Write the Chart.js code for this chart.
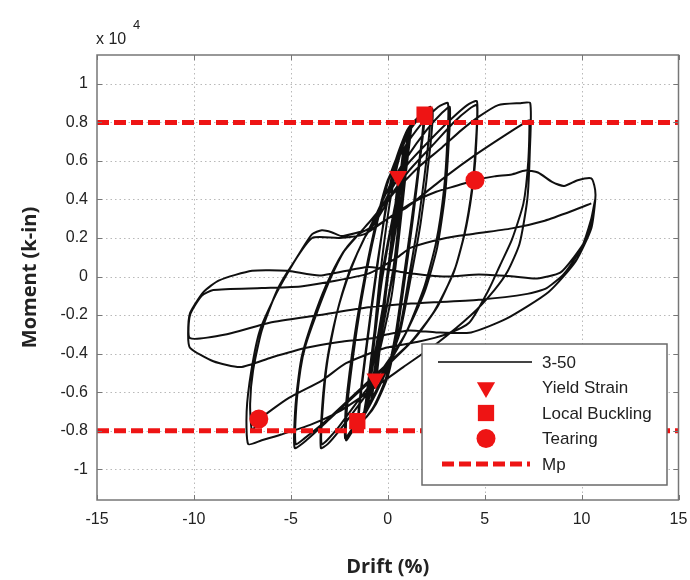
<!DOCTYPE html>
<html>
<head>
<meta charset="utf-8">
<script src="https://cdn.jsdelivr.net/npm/chart.js@4.4.1/dist/chart.umd.min.js"></script>
<style>
  html, body { margin: 0; padding: 0; background: #fff; }
</style>
</head>
<body>
<canvas id="chart-moment" width="690" height="580"></canvas>
<script>
// drift (%) , moment (x 10^4 k-in), cycle by cycle
const elasticCycles = [
  [0, 0], [0.25, 0.25], [0.12, 0.12], [-0.27, -0.26], [-0.14, -0.13], [0.26, 0.26], [0.12, 0.13], [-0.28, -0.27],
  [-0.15, -0.13], [0.38, 0.37], [0.25, 0.24], [-0.4, -0.38], [-0.27, -0.25], [0.4, 0.38], [0.27, 0.25], [-0.42, -0.39],
  [-0.28, -0.25], [0.52, 0.49], [0.35, 0.32], [-0.55, -0.5], [-0.38, -0.33], [0.53, 0.5], [0.36, 0.33], [-0.56, -0.51],
  [-0.38, -0.33], [0.78, 0.64], [0.55, 0.43], [-0.8, -0.62], [-0.57, -0.42], [0.8, 0.65], [0.56, 0.43], [-0.82, -0.63],
  [-0.58, -0.42], [0.82, 0.66], [0.58, 0.44], [-0.84, -0.63], [-0.6, -0.42],
  [1.05, 0.74], [0.8, 0.52], [0.3, 0.05], [-1.1, -0.7], [-0.85, -0.48], [-0.3, -0.02], [1.1, 0.75],
  [0.85, 0.52], [0.35, 0.06], [-1.15, -0.71], [-0.9, -0.49], [-0.35, -0.03], [1.15, 0.76], [0.88, 0.53], [-1.2, -0.72],
  [-0.95, -0.5], [-0.25, 0.04], [1.2, 0.77], [0.95, 0.55], [0.2, -0.1], [-1.25, -0.73]
];
const cycle15 = [
  [-0.9, -0.5], [-0.4, 0.0], [0.1, 0.38], [0.5, 0.58], [1.0, 0.74], [1.5, 0.81], [1.9, 0.84],
  [1.75, 0.68], [1.3, 0.3], [0.9, 0.0], [0.5, -0.28], [0, -0.52], [-0.6, -0.66], [-1.1, -0.73], [-1.5, -0.76],
  [-1.35, -0.58], [-0.9, -0.22], [-0.5, 0.08],
  [-0.1, 0.36], [0.4, 0.6], [1.0, 0.76], [1.6, 0.83], [1.85, 0.84],
  [1.7, 0.66], [1.2, 0.27], [0.8, -0.02], [0.4, -0.3], [-0.1, -0.53], [-0.7, -0.67], [-1.2, -0.74], [-1.55, -0.77],
  [-1.4, -0.6], [-0.95, -0.24], [-0.55, 0.06]
];
const cycle2 = [
  [0, 0.4], [0.6, 0.63], [1.3, 0.79], [1.9, 0.86], [2.2, 0.88],
  [2.1, 0.7], [1.6, 0.3], [1.1, 0.0], [0.6, -0.28], [-0.2, -0.52], [-1.1, -0.7], [-1.8, -0.8], [-2.15, -0.85],
  [-2.1, -0.68], [-1.6, -0.28], [-1.1, 0.02], [-0.5, 0.3],
  [0.2, 0.55], [1.0, 0.74], [1.7, 0.83], [2.3, 0.87],
  [2.2, 0.68], [1.7, 0.28], [1.2, 0.0], [0.6, -0.3], [-0.3, -0.53], [-1.2, -0.7], [-1.9, -0.8], [-2.2, -0.84],
  [-2.15, -0.66], [-1.7, -0.3], [-1.15, 0.02], [-0.6, 0.28]
];
const cycle3 = [
  [0, 0.5], [0.8, 0.66], [1.8, 0.8], [2.6, 0.88], [3.1, 0.9],
  [3.08, 0.72], [2.9, 0.45], [2.5, 0.18], [1.9, -0.05], [1.0, -0.28], [0, -0.46], [-1.3, -0.64], [-2.5, -0.8], [-3.1, -0.87], [-3.45, -0.89],
  [-3.4, -0.7], [-3.15, -0.45], [-2.65, -0.2], [-2.0, 0.02], [-1.3, 0.18], [-0.7, 0.3],
  [0.1, 0.47], [1.0, 0.62], [2.0, 0.76], [2.8, 0.85], [3.2, 0.88],
  [3.15, 0.7], [2.95, 0.42], [2.55, 0.15], [1.9, -0.08], [0.9, -0.3], [-0.2, -0.47], [-1.5, -0.64], [-2.6, -0.79], [-3.4, -0.87],
  [-3.35, -0.68], [-3.1, -0.43], [-2.6, -0.18], [-1.9, 0.04], [-1.2, 0.2], [-0.7, 0.28]
];
const cycle4 = [
  [0, 0.42], [1.0, 0.58], [2.2, 0.71], [3.3, 0.82], [4.1, 0.89], [4.6, 0.91],
  [4.58, 0.72], [4.42, 0.5], [4.05, 0.26], [3.5, 0.05], [2.6, -0.15], [1.4, -0.32], [0, -0.46], [-1.5, -0.6], [-3.0, -0.74], [-4.2, -0.85], [-4.8, -0.89],
  [-4.78, -0.7], [-4.6, -0.52], [-4.4, -0.4], [-3.88, -0.23], [-3.2, -0.05], [-2.34, 0.12], [-1.5, 0.22], [-0.8, 0.3],
  [0, 0.4], [1.1, 0.55], [2.3, 0.68], [3.4, 0.8], [4.2, 0.87], [4.6, 0.89],
  [4.55, 0.7], [4.35, 0.46], [3.95, 0.22], [3.4, 0.02], [2.4, -0.18], [1.2, -0.34], [-0.2, -0.47], [-1.7, -0.61], [-3.2, -0.75], [-4.3, -0.84], [-4.75, -0.87],
  [-4.72, -0.68], [-4.5, -0.48], [-4.25, -0.36], [-3.7, -0.2], [-3.0, -0.02], [-2.2, 0.14], [-1.5, 0.22], [-0.8, 0.26]
];
const cycle7 = [
  [0.2, 0.42], [1.5, 0.56], [2.8, 0.67], [3.8, 0.76], [4.7, 0.83], [5.7, 0.89], [6.8, 0.9], [7.35, 0.9],
  [7.33, 0.65], [7.2, 0.4], [6.8, 0.17], [6.2, 0.03], [5.5, -0.07], [4.3, -0.2], [2.5, -0.35], [0.8, -0.47], [-1, -0.6], [-2.5, -0.7], [-4.0, -0.77], [-5.5, -0.82], [-6.5, -0.85], [-7.2, -0.87],
  [-7.28, -0.7], [-7.04, -0.49], [-6.6, -0.28], [-5.76, -0.09], [-5.1, 0.03], [-4.5, 0.13], [-3.9, 0.22], [-3.4, 0.24], [-2.9, 0.23], [-2.4, 0.21], [-1.5, 0.23], [-0.8, 0.25],
  [0, 0.3], [1.0, 0.36], [1.75, 0.42], [3.0, 0.52], [4.5, 0.63], [6.0, 0.73], [7.1, 0.8], [7.3, 0.81],
  [7.25, 0.6], [7.0, 0.38], [6.4, 0.19], [5.8, 0.06], [5.2, -0.07], [4.2, -0.24], [3.0, -0.3], [1.5, -0.34], [-0.1, -0.37], [-2.15, -0.45], [-3.4, -0.54], [-5.1, -0.63], [-6.6, -0.74], [-7.0, -0.8],
  [-7.1, -0.66], [-6.95, -0.49], [-6.5, -0.28], [-5.7, -0.07], [-5.0, 0.05], [-3.9, 0.2], [-2.5, 0.2], [-1.2, 0.22]
];
const cycle10 = [
  [0, 0.3], [1.2, 0.38], [2.5, 0.44], [3.5, 0.47], [4.5, 0.5], [5.5, 0.52], [6.4, 0.53], [7.1, 0.55], [7.75, 0.54], [8.5, 0.49], [9.1, 0.47], [9.8, 0.5], [10.5, 0.51], [10.7, 0.45], [10.7, 0.39],
  [10.5, 0.25], [9.7, 0.08], [8.3, -0.08], [6.1, -0.22], [4.3, -0.29], [2.5, -0.29], [1.1, -0.28], [0, -0.3], [-0.8, -0.32], [-2.5, -0.34], [-4.2, -0.37], [-6, -0.42], [-7.6, -0.47], [-9.0, -0.44], [-10.2, -0.37],
  [-10.3, -0.3], [-10.2, -0.19], [-9.5, -0.08], [-8.7, -0.02], [-7.0, 0.03], [-5.2, 0.03], [-3.5, 0.005], [-1.0, 0.05], [0.9, 0.02], [3.0, 0.0], [4.7, 0.01], [6.5, 0.0], [7.7, -0.01], [8.9, 0.02], [9.6, 0.1], [10.2, 0.19], [10.6, 0.33], [10.7, 0.4],
  [10.5, 0.3], [10.0, 0.15], [9.1, 0.015], [8.2, -0.06], [7.2, -0.09], [4.7, -0.12], [1.2, -0.14], [-1.0, -0.16], [-3.5, -0.2], [-6.1, -0.24], [-8.3, -0.3], [-10.2, -0.32],
  [-10.2, -0.2], [-9.6, -0.1], [-9.0, -0.07], [-6.5, -0.06], [-4.4, -0.05], [-1.0, 0.015], [0.5, 0.1], [1.2, 0.15], [3.0, 0.2], [4.3, 0.22], [6.4, 0.25], [8.1, 0.29], [9.5, 0.34], [10.5, 0.38]
];

const yieldStrain = [[0.53, 0.52], [-0.63, -0.53]];
const localBuckling = [[1.9, 0.84], [-1.57, -0.75]];
const tearing = [[4.5, 0.5], [-6.65, -0.74]];
const mp = 0.8;

const xTicks = [-15, -10, -5, 0, 5, 10, 15];
const yTicks = [-1, -0.8, -0.6, -0.4, -0.2, 0, 0.2, 0.4, 0.6, 0.8, 1];
const legendLabels = ['3-50', 'Yield Strain', 'Local Buckling', 'Tearing', 'Mp'];

const RED = 'rgb(238, 20, 20)';
const FONT = '"Liberation Sans", Arial, sans-serif';
const toXY = arr => arr.map(([x, y]) => ({x, y}));

const hysteresis = toXY([].concat(elasticCycles, cycle15, cycle2, cycle3, cycle4, cycle7, cycle10));

const frame = {
  id: 'frame',
  beforeDatasetsDraw(chart) {
    const {ctx, chartArea: a, scales: {x, y}} = chart;
    ctx.save();
    ctx.strokeStyle = '#b9b9b9';
    ctx.lineWidth = 1;
    ctx.setLineDash([1.5, 3]);
    xTicks.slice(1, -1).forEach(v => {
      const px = Math.round(x.getPixelForValue(v)) + 0.5;
      ctx.beginPath(); ctx.moveTo(px, a.top); ctx.lineTo(px, a.bottom); ctx.stroke();
    });
    yTicks.forEach(v => {
      const py = Math.round(y.getPixelForValue(v)) + 0.5;
      ctx.beginPath(); ctx.moveTo(a.left, py); ctx.lineTo(a.right, py); ctx.stroke();
    });
    ctx.restore();
  },
  afterDatasetsDraw(chart) {
    const {ctx, chartArea: a, scales: {x, y}} = chart;
    ctx.save();
    // matlab style inner ticks + box
    ctx.strokeStyle = '#777';
    ctx.lineWidth = 1;
    xTicks.forEach(v => {
      const px = Math.round(x.getPixelForValue(v)) + 0.5;
      ctx.beginPath(); ctx.moveTo(px, a.bottom); ctx.lineTo(px, a.bottom - 5);
      ctx.moveTo(px, a.top); ctx.lineTo(px, a.top + 5); ctx.stroke();
    });
    yTicks.forEach(v => {
      const py = Math.round(y.getPixelForValue(v)) + 0.5;
      ctx.beginPath(); ctx.moveTo(a.left, py); ctx.lineTo(a.left + 5, py);
      ctx.moveTo(a.right, py); ctx.lineTo(a.right - 5, py); ctx.stroke();
    });
    ctx.lineWidth = 1.5;
    ctx.strokeRect(a.left, a.top, a.right - a.left, a.bottom - a.top);

    // exponent label
    ctx.fillStyle = '#222';
    ctx.font = '16px ' + FONT;
    ctx.textBaseline = 'alphabetic';
    ctx.fillText('x 10', 96, 44);
    ctx.font = '13px ' + FONT;
    ctx.fillText('4', 133, 29);

    // legend box
    const lx = 422, ly = 344, lw = 245, lh = 141;
    ctx.fillStyle = '#fff';
    ctx.fillRect(lx, ly, lw, lh);
    ctx.strokeStyle = '#6a6a6a';
    ctx.lineWidth = 1.5;
    ctx.strokeRect(lx, ly, lw, lh);
    ctx.font = '17px ' + FONT;
    ctx.textBaseline = 'middle';
    legendLabels.forEach((label, i) => {
      const ds = chart.data.datasets.find(d => d.label === label);
      const cy = ly + 18 + i * 25.5;
      const cx = 486;
      if (label === '3-50') {
        ctx.strokeStyle = '#444'; ctx.lineWidth = 2; ctx.setLineDash([]);
        ctx.beginPath(); ctx.moveTo(438, cy); ctx.lineTo(532, cy); ctx.stroke();
      } else if (label === 'Mp') {
        ctx.strokeStyle = RED; ctx.lineWidth = 5; ctx.setLineDash(ds.borderDash);
        ctx.beginPath(); ctx.moveTo(442, cy); ctx.lineTo(530, cy); ctx.stroke();
        ctx.setLineDash([]);
      } else {
        ctx.fillStyle = RED;
        Chart.helpers.drawPoint(ctx, {
          pointStyle: ds.pointStyle, rotation: ds.rotation || 0, radius: ds.pointRadius, borderWidth: 0
        }, cx, cy);
      }
      ctx.fillStyle = '#222';
      ctx.fillText(label, 542, cy + 1);
    });
    ctx.restore();
  }
};

new Chart(document.getElementById('chart-moment').getContext('2d'), {
  type: 'scatter',
  data: {
    datasets: [
      {
        label: 'Yield Strain',
        data: toXY(yieldStrain),
        pointStyle: 'triangle',
        rotation: 180,
        pointRadius: 10.5,
        backgroundColor: RED,
        borderWidth: 0
      },
      {
        label: 'Local Buckling',
        data: toXY(localBuckling),
        pointStyle: 'rect',
        pointRadius: 11.5,
        backgroundColor: RED,
        borderWidth: 0
      },
      {
        label: 'Tearing',
        data: toXY(tearing),
        pointStyle: 'circle',
        pointRadius: 9.5,
        backgroundColor: RED,
        borderWidth: 0
      },
      {
        label: 'Mp',
        data: toXY([[-15, mp], [15, mp]]),
        showLine: true,
        borderColor: RED,
        borderWidth: 5,
        borderDash: [12, 5],
        pointRadius: 0
      },
      {
        label: 'Mp (neg)',
        data: toXY([[-15, -mp], [15, -mp]]),
        showLine: true,
        borderColor: RED,
        borderWidth: 5,
        borderDash: [12, 5],
        pointRadius: 0
      },
      {
        label: '3-50',
        data: hysteresis,
        showLine: true,
        borderColor: '#101010',
        borderWidth: 2,
        pointRadius: 0,
        tension: 0.2
      }
    ]
  },
  options: {
    responsive: false,
    animation: false,
    events: [],
    layout: { padding: { top: 55, right: 9, left: 0, bottom: 0 } },
    plugins: {
      legend: { display: false },
      tooltip: { enabled: false }
    },
    scales: {
      x: {
        type: 'linear',
        min: -15,
        max: 15,
        afterFit: s => { s.height = 80; s.paddingLeft = 0; s.paddingRight = 0; },
        afterBuildTicks: s => { s.ticks = xTicks.map(v => ({value: v})); },
        grid: { display: false, drawTicks: false },
        border: { display: false },
        ticks: { padding: 10, color: '#222', font: { family: FONT, size: 16 }, callback: v => String(v) },
        title: {
          display: true,
          text: 'Drift (%)',
          color: '#222',
          font: { family: '"Open Sans", sans-serif', size: 20, weight: 'bold' },
          padding: { top: 0, bottom: 1 }
        }
      },
      y: {
        type: 'linear',
        min: -1.16,
        max: 1.15,
        afterFit: s => { s.width = 97; s.paddingTop = 0; s.paddingBottom = 0; },
        afterBuildTicks: s => { s.ticks = yTicks.map(v => ({value: v})); },
        grid: { display: false, drawTicks: false },
        border: { display: false },
        ticks: { padding: 9, color: '#222', font: { family: FONT, size: 16 }, callback: v => String(v) },
        title: {
          display: true,
          text: 'Moment (k-in)',
          color: '#222',
          font: { family: '"Open Sans", sans-serif', size: 20, weight: 'bold' },
          padding: { top: 18, bottom: 0 }
        }
      }
    }
  },
  plugins: [frame]
});
</script>
</body>
</html>
